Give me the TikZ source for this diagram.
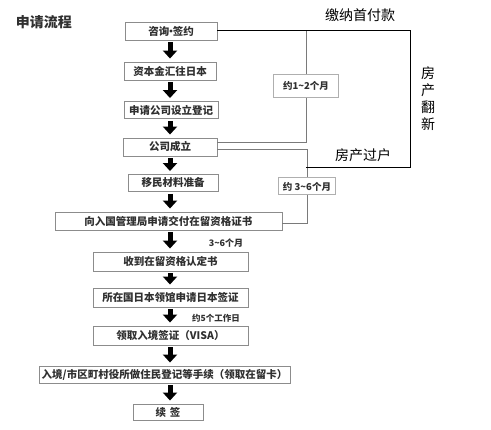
\documentclass[tikz,border=0pt]{standalone}
\usepackage{fontspec}
\setmainfont{Noto Sans CJK SC}
\usetikzlibrary{arrows.meta}
\definecolor{boxgray}{HTML}{8C8C8C}
\definecolor{textgray}{HTML}{303030}
\definecolor{linegray}{HTML}{7A7A7A}
\tikzset{
  stepbox/.style={draw=boxgray, line width=0.9pt, fill=white, inner sep=0pt,
    minimum height=18, font=\bfseries\fontsize{10.5}{12}\selectfont, text=textgray},
  timebox/.style={draw=boxgray!70, line width=1pt, fill=white, inner sep=0pt,
    font=\bfseries\fontsize{9.5}{11}\selectfont, text=textgray},
  bigarrow/.style={line width=5pt, -{Triangle[width=14pt,length=8pt]}, black},
  grayline/.style={linegray, line width=1pt},
  blackline/.style={black, line width=1pt},
  note/.style={font=\bfseries\fontsize{8.5}{10}\selectfont, text=textgray, inner sep=0pt},
  bignote/.style={font=\fontsize{14}{17}\selectfont, text=black, inner sep=0pt}
}
\begin{document}
\begin{tikzpicture}[x=1pt,y=-1pt]
\useasboundingbox (0,0) rectangle (491,430);
\node[font=\bfseries\fontsize{14}{16}\selectfont, text=textgray, inner sep=0pt] (title) at (44,22) {申请流程};

\node[stepbox, minimum width=92] (b1) at (171,31) {咨询\kern-3.5pt·\kern-3.5pt签约};
\node[stepbox, minimum width=92] (b2) at (170,71) {资本金汇往日本};
\node[stepbox, minimum width=94, minimum height=17] (b3) at (171,110) {申请公司设立登记};
\node[stepbox, minimum width=94] (b4) at (170,147) {公司成立};
\node[stepbox, minimum width=90, minimum height=17] (b5) at (173,183) {移民材料准备};
\node[stepbox, minimum width=227] (b6) at (168.5,221) {向入国管理局申请交付在留资格证书};
\node[stepbox, minimum width=155, minimum height=19] (b7) at (170.5,261.5) {收到在留资格认定书};
\node[stepbox, minimum width=155, minimum height=19] (b8) at (170.5,297.5) {所在国日本领馆申请日本签证};
\node[stepbox, minimum width=155, minimum height=19] (b9) at (170.5,335.5) {领取入境签证（VISA）};
\node[stepbox, minimum width=251, minimum height=17] (b10) at (164.5,374.5) {入境/市区町村役所做住民登记等手续（领取在留卡）};
\node[stepbox, minimum width=70, minimum height=16] (b11) at (168,412) {续\hspace{4pt}签};

\coordinate (ax) at (170,0);
\foreach \a/\b in {b1/b2,b2/b3,b3/b4,b4/b5,b5/b6,b6/b7,b7/b8,b8/b9,b9/b10,b10/b11}{
  \draw[bigarrow] ([yshift=-2pt]\a.south -| ax) -- ([yshift=3pt]\b.north -| ax);
}

\node[note, font=\bfseries\fontsize{9}{10}\selectfont] (t36) at (226,243) {3{\char"7E}6个月};
\node[note] (t5) at (216,318) {约5个工作日};

% time boxes
\node[timebox, minimum width=65, minimum height=23] (c1) at (306,86) {约1{\char"7E}2个月};
\node[timebox, minimum width=57, minimum height=17] (c2) at (307,186.5) {约 3{\char"7E}6个月};

% coordinates of the bracket
\coordinate (tl) at (306,31);
\coordinate (tr) at (410,31);
\coordinate (br) at (410,168);
\coordinate (bl) at (306,168);

% gray connectors
\draw[grayline] (tl) -- (c1.north);
\draw[grayline] (c1.south) |- ([yshift=4pt]b4.east);
\draw[grayline] ([yshift=-3pt]b4.east) -| (c2.north);
\draw[grayline] (c2.south) |- ([yshift=-3pt]b6.east);

% black bracket
\draw[blackline] (b1.east) -- (tr) -- (br) -- (bl);

% right texts
\node[bignote] (pay) at (360,15) {缴纳首付款};
\node[bignote] (transfer) at (363,155) {房产过户};
\node[bignote, align=center, font=\fontsize{14}{17}\selectfont] (renov) at (428,99) {房\\产\\翻\\新};
\end{tikzpicture}
\end{document}
